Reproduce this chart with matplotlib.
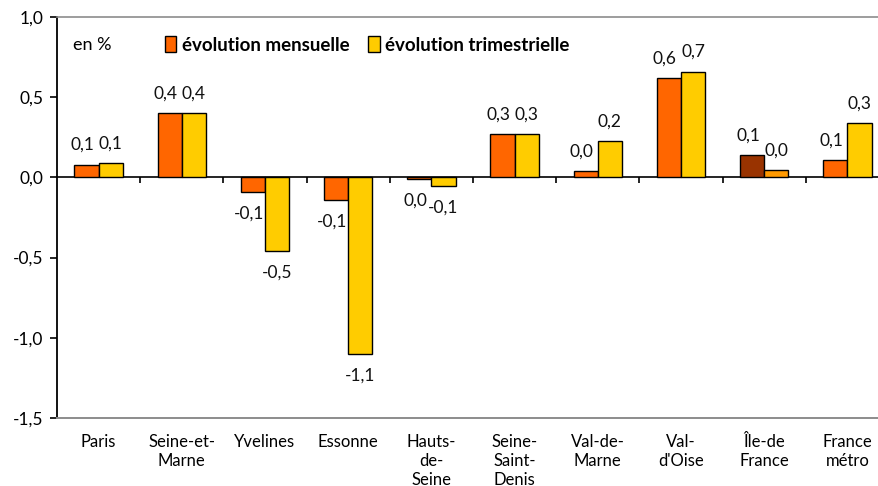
import matplotlib
matplotlib.use("Agg")
import matplotlib.pyplot as plt
import numpy as np
from matplotlib.ticker import FixedLocator, FuncFormatter

plt.rcParams['font.family'] = ['Lato', 'DejaVu Sans']

categories = ["Paris", "Seine-et-\nMarne", "Yvelines", "Essonne", "Hauts-\nde-\nSeine",
              "Seine-\nSaint-\nDenis", "Val-de-\nMarne", "Val-\nd'Oise", "Île-de\nFrance", "France\nmétro"]
mensuelle = [0.08, 0.40, -0.09, -0.14, -0.01, 0.27, 0.04, 0.62, 0.14, 0.11]
trimestrielle = [0.09, 0.40, -0.46, -1.10, -0.056, 0.27, 0.225, 0.66, 0.045, 0.34]
yticks = [1.0, 0.5, 0.0, -0.5, -1.0, -1.5]
series_names = ["évolution mensuelle", "évolution trimestrielle"]

col_m = "#FF6600"
col_t = "#FFCC00"
col_m_idf = "#993300"
col_t_idf = "#FF9900"

W, H = 879, 486
fig = plt.figure(figsize=(W / 100, H / 100), dpi=100)
ax = fig.add_axes([57 / W, 68 / H, 832 / W, 401 / H])

x = np.arange(len(categories))
bw = 0.29
cm = [col_m_idf if c.startswith("Île") else col_m for c in categories]
ct = [col_t_idf if c.startswith("Île") else col_t for c in categories]
ax.bar(x - bw / 2, mensuelle, bw, color=cm, edgecolor="black", linewidth=1.0, zorder=3,
       label=series_names[0])
ax.bar(x + bw / 2, trimestrielle, bw, color=ct, edgecolor="black", linewidth=1.0, zorder=3,
       label=series_names[1])

ax.set_xlim(-0.5, len(categories) - 0.5)
ax.set_ylim(-1.5, 1.0)


def fmt(v):
    s = f"{v:.1f}".replace(".", ",")
    if s == "-0,0":
        s = "0,0"
    return s


for xs, vals, dx in ((x - bw / 2, mensuelle, -3), (x + bw / 2, trimestrielle, 0)):
    for xi, v in zip(xs, vals):
        off = 14 if v >= 0 else -15.5
        ax.annotate(fmt(v), xy=(xi, v), xytext=(dx, off), textcoords="offset points",
                    ha="center", va="center", fontsize=12.5, color="#111111")

# axes styling
ax.spines['right'].set_visible(False)
ax.spines['top'].set_color("#8c8c8c")
ax.spines['top'].set_linewidth(1.2)
ax.spines['left'].set_linewidth(1.3)
ax.spines['bottom'].set_position(('data', 0))
ax.spines['bottom'].set_linewidth(1.2)
ax.axhline(-1.5, color="#8c8c8c", linewidth=1.4, clip_on=False, zorder=4)

ax.yaxis.set_major_locator(FixedLocator(yticks))
ax.yaxis.set_major_formatter(FuncFormatter(lambda v, p: f"{v:.1f}".replace(".", ",")))
ax.tick_params(axis='y', direction='out', length=5, width=1.2, labelsize=12.5, pad=5)

ax.set_xticks([])
ax.xaxis.set_minor_locator(FixedLocator(np.arange(0.5, len(categories) - 0.5, 1.0)))
ax.tick_params(axis='x', which='minor', direction='out', length=4, width=1.2)

for xi, c in zip(x, categories):
    ax.annotate(c, xy=(xi, 0), xycoords=('data', 'axes fraction'), xytext=(0, -11.5),
                textcoords="offset points", ha="center", va="top", fontsize=12,
                linespacing=1.22, annotation_clip=False)

ax.text(0.019, 0.93, "en %", transform=ax.transAxes, ha="left", va="center", fontsize=13)

ax.legend(loc="center left", bbox_to_anchor=(0.13, 0.93), ncol=2, frameon=False,
          handlelength=0.6, handleheight=0.9, handletextpad=0.3, columnspacing=1.0,
          borderaxespad=0, borderpad=0, prop={'weight': 'bold', 'size': 13.5})

fig.savefig("out.png", dpi=100)
